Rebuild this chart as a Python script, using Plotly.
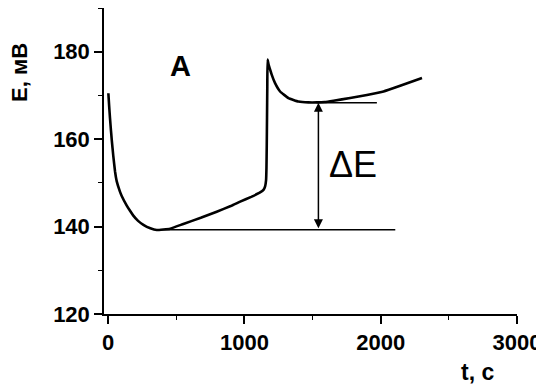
import plotly.graph_objects as go

# Data
t_curve = [2, 8, 14, 21, 27, 38, 51, 63, 87, 100, 137, 161, 185, 220, 259, 310, 357,
           455, 552, 680, 797, 900, 969, 1050, 1115, 1140, 1152, 1159, 1162, 1164,
           1166, 1168, 1170, 1178, 1190, 1201, 1225, 1262, 1323, 1397, 1470,
           1532, 1590, 1654, 1776, 1899, 2021, 2143, 2303]
E_curve = [170.5, 167.5, 164.8, 162.0, 159.8, 156.2, 152.6, 150.4, 148.0, 147.0, 144.8,
           143.6, 142.5, 141.3, 140.4, 139.6, 139.2, 139.5, 140.6, 142.0, 143.4,
           144.7, 145.7, 146.8, 147.8, 148.4, 149.2, 150.6, 153.5, 158.5,
           165.0, 172.0, 178.2, 177.0, 175.8, 174.7, 172.8, 170.9, 169.4, 168.6, 168.4,
           168.4, 168.5, 168.8, 169.4, 170.1, 170.9, 172.2, 174.0]

low_line_t = [369, 2107]
low_line_E = [139.3, 139.3]
high_line_t = [1530, 1972]
high_line_E = [168.3, 168.3]

arrow_t = 1543
arrow_E_top = 168.3
arrow_E_bottom = 139.3

x_ticks = [0, 1000, 2000, 3000]
y_ticks = [120, 140, 160, 180]

FONT = "Liberation Sans, Arial, sans-serif"

fig = go.Figure()
fig.add_trace(go.Scatter(x=t_curve, y=E_curve, mode="lines",
                         line=dict(color="black", width=2.6, shape="spline", smoothing=0.3),
                         hoverinfo="skip", showlegend=False))
fig.add_trace(go.Scatter(x=low_line_t, y=low_line_E, mode="lines",
                         line=dict(color="black", width=1.5), showlegend=False))
fig.add_trace(go.Scatter(x=high_line_t, y=high_line_E, mode="lines",
                         line=dict(color="black", width=1.5), showlegend=False))

fig.add_annotation(x=arrow_t, y=arrow_E_top, ax=arrow_t, ay=arrow_E_bottom,
                   xref="x", yref="y", axref="x", ayref="y",
                   showarrow=True, text="", arrowhead=2, arrowside="end+start",
                   arrowsize=1.2, arrowwidth=1.5, arrowcolor="black",
                   standoff=0, startstandoff=0)

fig.add_annotation(x=532, y=176.8, xref="x", yref="y", text="A", showarrow=False,
                   xanchor="center", yanchor="middle",
                   font=dict(family=FONT, size=29, color="black", weight="bold"))
fig.add_annotation(x=1794, y=154.1, xref="x", yref="y", text="ΔE", showarrow=False,
                   xanchor="center", yanchor="middle",
                   font=dict(family=FONT, size=36, color="black"))

fig.add_annotation(x=-0.2035, y=0.791, xref="paper", yref="paper", text="E, мВ",
                   showarrow=False, textangle=-90, xanchor="center", yanchor="middle",
                   font=dict(family=FONT, size=22, color="black", weight="bold"))
fig.add_annotation(x=0.904, y=-0.19, xref="paper", yref="paper", text="t, с",
                   showarrow=False, xanchor="center", yanchor="middle",
                   font=dict(family=FONT, size=23, color="black", weight="bold"))

axis_common = dict(showgrid=False, zeroline=False, showline=True, linecolor="black",
                   linewidth=1.5, ticks="outside", ticklen=8, tickwidth=1.5,
                   tickcolor="black", automargin=False,
                   tickfont=dict(family=FONT, size=22, color="black", weight="bold"))

fig.update_xaxes(range=[-30, 3000], tickvals=x_ticks, ticktext=[str(v) for v in x_ticks],
                 minor=dict(tickvals=[500, 1500, 2500], ticks="outside", ticklen=4,
                            tickwidth=1.2, tickcolor="black"),
                 **axis_common)
fig.update_yaxes(range=[120, 190], tickvals=y_ticks, ticktext=[str(v) for v in y_ticks],
                 minor=dict(tickvals=[130, 150, 170, 190], ticks="outside", ticklen=4,
                            tickwidth=1.2, tickcolor="black"),
                 **axis_common)

# The page body has an 8px default margin, so the figure is sized/offset to compensate.
fig.update_layout(width=536, height=377, margin=dict(l=96, r=27, t=0, b=71),
                  plot_bgcolor="white", paper_bgcolor="white", showlegend=False)

fig.write_html("out.html")
